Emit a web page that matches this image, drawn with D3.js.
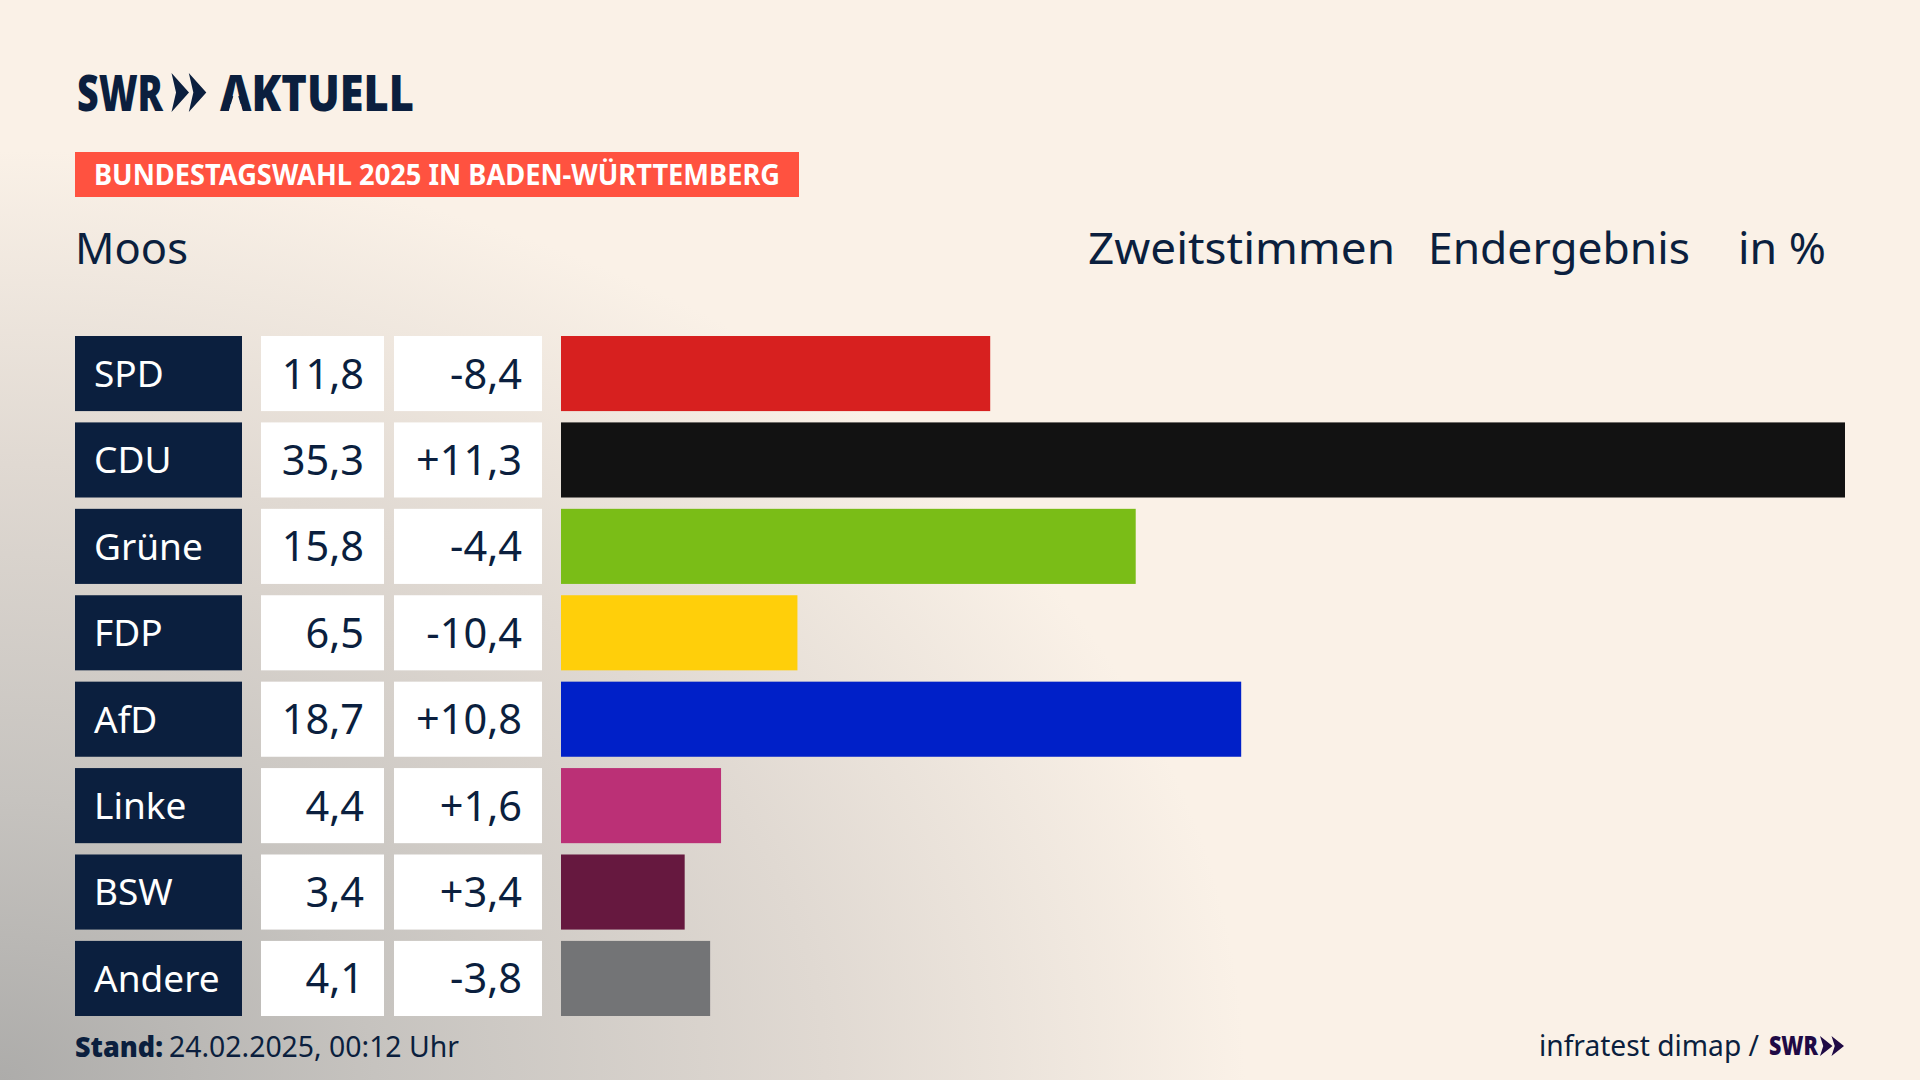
<!DOCTYPE html>
<html>
<head>
    <meta charset="utf-8">
    <title>Moos Zweitstimmen</title>
    <script src="https://d3js.org/d3.v7.min.js"></script>
    <style>
        html, body { margin:0; padding:0; background:#faf1e7; }
        svg { display:block; }
        text { font-family:"Noto Sans", Lato, sans-serif; fill:#0b1f3e; }
    </style>
</head>
<body>
<script>
var parties = ["SPD","CDU","Grüne","FDP","AfD","Linke","BSW","Andere"];
var results = [11.8,35.3,15.8,6.5,18.7,4.4,3.4,4.1];
var changes = [-8.4,11.3,-4.4,-10.4,10.8,1.6,3.4,-3.8];
var colors = ["#d7201f","#121212","#7abd17","#ffcf0a","#0020c8","#bb3076","#66183f","#737476"];

var de = d3.formatLocale({decimal:",",thousands:".",grouping:[3],currency:["","€"],minus:"-"});
var fmtResult = de.format(".1f");
var fmtChange = de.format("+.1f");

var navy = "#0b1f3e";

var svg = d3.select("body").append("svg").attr("width",1920).attr("height",1080);

// background, grey haze out of the lower left corner
var defs = svg.append("defs");
var haze = defs.append("radialGradient").attr("id","haze")
    .attr("gradientUnits","userSpaceOnUse")
    .attr("cx",0).attr("cy",0).attr("r",1)
    .attr("gradientTransform","translate(0,1080) scale(1500,1120)");
haze.selectAll("stop")
    .data([[0,"#adacaa"],[0.25,"#c6c3bf"],[0.55,"#e0d9d2"],[0.83,"#faf1e7"],[1,"#faf1e7"]])
    .enter().append("stop")
    .attr("offset",function(d){return d[0];})
    .attr("stop-color",function(d){return d[1];});
svg.append("rect").attr("width",1920).attr("height",1080).attr("fill","url(#haze)");

function label(x,y,str,size,width,opts) {
    opts = opts || {};
    return svg.append("text")
        .attr("x",x).attr("y",y)
        .attr("font-size",size)
        .attr("font-weight",opts.weight||400)
        .attr("text-anchor",opts.anchor||"start")
        .attr("textLength",width)
        .attr("lengthAdjust","spacingAndGlyphs")
        .style("fill",opts.fill||navy)
        .text(str);
}

// double chevron of the logo
function chevrons(x,y,h,w,gap,fill) {
    [0,1].forEach(function(i){
        var x0 = x+i*gap;
        svg.append("path")
            .attr("fill",fill)
            .attr("d","M"+x0+","+y+"L"+(x0+w)+","+(y+h/2)+"L"+x0+","+(y+h)+"L"+(x0+w*0.26)+","+(y+h/2)+"Z");
    });
}

// header
label(77,110.5,"SWR",50,86,{weight:900});
chevrons(171.5,73,39,17.5,17.3,navy);
var aktuell = label(220,110.5,"AKTUELL",50,194,{weight:900});

// the logo's A has no crossbar, cut it out of the glyph
var a = aktuell.node().getExtentOfChar(0);
defs.append("clipPath").attr("id","noBar").append("path")
    .attr("clip-rule","evenodd")
    .attr("d","M200,60H440V125H200Z"
        +"M"+(a.x+a.width*0.27)+",112L"+(a.x+a.width*0.5)+",88L"+(a.x+a.width*0.73)+",112Z");
aktuell.attr("clip-path","url(#noBar)");

svg.append("rect").attr("x",75).attr("y",152).attr("width",724).attr("height",45).attr("fill","#ff5240");
label(94,185,"BUNDESTAGSWAHL 2025 IN BADEN-WÜRTTEMBERG",28,686,{weight:700,fill:"#ffffff"});

label(75,264,"Moos",43,113);
label(1088,264,"Zweitstimmen",43,307);
label(1428,264,"Endergebnis",43,262);
label(1738,264,"in %",43,88);

// rows
var y = d3.scaleBand().domain(parties).range([336,1016]).paddingInner(0.131);
var x = d3.scaleLinear().domain([0,35.3]).range([561,1845]);

var rows = svg.append("g").selectAll("g")
    .data(parties.map(function(p,i){return {party:p,result:results[i],change:changes[i],color:colors[i]};}))
    .enter().append("g")
    .attr("transform",function(d){return "translate(0,"+y(d.party)+")";});

rows.append("rect").attr("x",75).attr("width",167).attr("height",y.bandwidth()).attr("fill",navy);
rows.append("rect").attr("x",261).attr("width",123).attr("height",y.bandwidth()).attr("fill","#ffffff");
rows.append("rect").attr("x",394).attr("width",148).attr("height",y.bandwidth()).attr("fill","#ffffff");
rows.append("rect")
    .attr("x",x(0))
    .attr("width",function(d){return x(d.result)-x(0);})
    .attr("height",y.bandwidth())
    .attr("fill",function(d){return d.color;});

rows.append("text").attr("x",94).attr("y",51).attr("font-size",37)
    .style("fill","#ffffff")
    .text(function(d){return d.party;});
rows.append("text").attr("x",364).attr("y",52.5).attr("font-size",41.5).attr("text-anchor","end")
    .text(function(d){return fmtResult(d.result);});
rows.append("text").attr("x",522).attr("y",52.5).attr("font-size",41.5).attr("text-anchor","end")
    .text(function(d){return fmtChange(d.change);});

// footer
label(75,1057,"Stand:",29,88,{weight:900});
label(169,1057,"24.02.2025, 00:12 Uhr",29,290);
label(1539,1056,"infratest dimap /",29,220);
label(1769,1055,"SWR",27,49,{weight:900,fill:"#1f0a45"});
chevrons(1820,1036,20,12.5,11.5,"#1f0a45");
</script>
</body>
</html>
